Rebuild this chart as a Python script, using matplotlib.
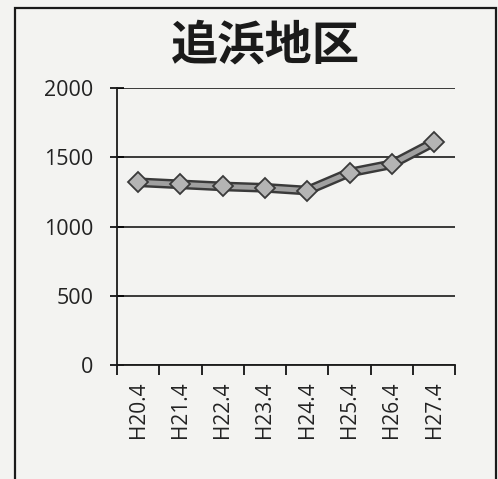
import matplotlib
matplotlib.use("Agg")
import matplotlib.pyplot as plt
from matplotlib.patches import Rectangle

# data
years = ["H20.4", "H21.4", "H22.4", "H23.4", "H24.4", "H25.4", "H26.4", "H27.4"]
values = [1320, 1305, 1290, 1280, 1260, 1390, 1450, 1610]
yticks = [0, 500, 1000, 1500, 2000]
title = "追浜地区"

plt.rcParams['font.family'] = ['Open Sans', 'Noto Sans CJK JP', 'DejaVu Sans']

fig = plt.figure(figsize=(4.98, 4.79), dpi=100)
fig.patch.set_facecolor('#f3f3f1')

ax = fig.add_axes([0.235, 0.238, 0.679, 0.578])
ax.set_facecolor('none')

x = range(len(years))
# thick grey line with dark outline
ax.plot(x, values, color='#3a3a3a', lw=7, solid_capstyle='round', zorder=3)
ax.plot(x, values, color='#a0a0a0', lw=3.5, solid_capstyle='round', zorder=4)
ax.plot(x, values, ls='none', marker='D', markersize=10,
        markerfacecolor='#b4b4b4', markeredgecolor='#3a3a3a', markeredgewidth=1.3, zorder=5)

ax.set_xlim(-0.5, len(years) - 0.5)
ax.set_ylim(0, 2000)
ax.set_yticks(yticks)
ax.set_yticklabels([str(v) for v in yticks], fontsize=15.5, color='#222222')
ax.tick_params(axis='y', direction='inout', length=10, width=1.2, pad=12)

# category ticks sit between labels
ax.set_xticks([i - 0.5 for i in range(len(years) + 1)], minor=False)
ax.set_xticklabels([''] * (len(years) + 1))
ax.set_xticks(list(x), minor=True)
ax.set_xticklabels(years, minor=True, rotation=90, fontsize=15, color='#222222')
ax.tick_params(axis='x', which='major', direction='out', length=7, width=1.2)
ax.tick_params(axis='x', which='minor', length=0, pad=12)

ax.yaxis.grid(True, color='#1a1a1a', lw=1.2)
ax.set_axisbelow(True)
for s in ['top', 'right']:
    ax.spines[s].set_visible(False)
for s in ['left', 'bottom']:
    ax.spines[s].set_color('#1a1a1a')
    ax.spines[s].set_linewidth(1.3)

fig.text(265 / 498, 1 - 46 / 479, title, fontsize=34, fontweight='bold',
         family=['Noto Sans CJK JP'], ha='center', va='center', color='#1a1a1a')

# outer frame of the scanned page (bottom edge lies outside the picture)
frame = Rectangle((15 / 498, -0.05), (496 - 15) / 498, 1.05 - 8 / 479,
                  transform=fig.transFigure, fill=False, lw=1.6, ec='#1a1a1a', clip_on=False)
fig.patches.append(frame)

fig.savefig("out.png", dpi=100, facecolor=fig.get_facecolor())
